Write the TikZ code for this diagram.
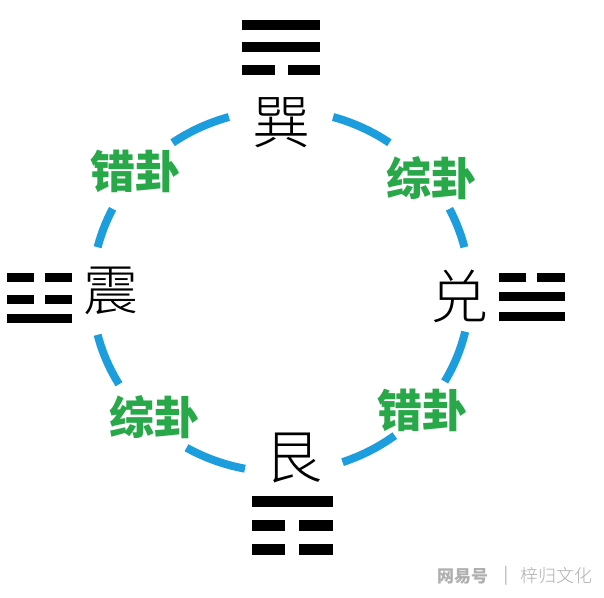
\documentclass[tikz,border=0pt]{standalone}
\usepackage{fontspec}
\newfontfamily\cjk{Noto Sans CJK SC}
\newfontfamily\cjklight{Noto Sans CJK SC Light}
\definecolor{arcblue}{RGB}{27,157,222}
\definecolor{labgreen}{RGB}{41,168,74}
\definecolor{wmgray}{RGB}{175,175,175}
\begin{document}
\begin{tikzpicture}[x=1pt,y=-1pt,
  ring/.style={draw=arcblue, line width=8pt, line cap=butt},
  guachar/.style={font=\cjklight\fontsize{58}{58}\selectfont, inner sep=0pt},
  rel/.style={font=\cjk\bfseries\fontsize{45}{45}\selectfont, text=labgreen, inner sep=0pt},
  yao/.style={line width=#1, line cap=butt},
  yao/.default=10pt,
  wm/.style={font=\cjk\fontsize{17}{17}\selectfont, text=wmgray, inner sep=0pt}
]
\useasboundingbox (0,0) rectangle (604,597);
\fill[white] (0,0) rectangle (604,597);

% circle arcs
\foreach \a/\b in {14/27, 55/74, 106/125, 153/166, 194/211, 240/259, 289/307, 330/347}
  \draw[ring] plot[domain=\a:\b, samples=25, smooth] ({281+189*cos(\x)},{291-181*sin(\x)});

% top trigram (Xun)
\draw[yao] (242,25) -- (320,25);
\draw[yao] (242,47) -- (320,47);
\draw[yao] (242,69.5) -- (275,69.5);
\draw[yao] (288,69.5) -- (320,69.5);

% left trigram (Zhen)
\draw[yao=9pt] (7,277.5) -- (34,277.5);
\draw[yao=9pt] (45,277.5) -- (72,277.5);
\draw[yao=9pt] (7,299) -- (34,299);
\draw[yao=9pt] (45,299) -- (72,299);
\draw[yao=9pt] (7,318) -- (72,318);

% right trigram (Dui)
\draw[yao=9pt] (499,277) -- (526,277);
\draw[yao=9pt] (537,277) -- (565,277);
\draw[yao=9pt] (499,296.5) -- (565,296.5);
\draw[yao=9pt] (499,316.5) -- (565,316.5);

% bottom trigram (Gen)
\draw[yao=11pt] (252,501.5) -- (333,501.5);
\draw[yao=11pt] (252,525) -- (285,525);
\draw[yao=11pt] (299,525) -- (333,525);
\draw[yao=11pt] (252,549.5) -- (285,549.5);
\draw[yao=11pt] (299,549.5) -- (333,549.5);

% trigram names
\node[guachar] (xun) at (281,123) {巽};
\node[guachar, font=\cjklight\fontsize{55}{55}\selectfont] (zhen) at (111,291) {震};
\node[guachar] (dui) at (459,296) {兑};
\node[guachar] (gen) at (293,458) {艮};

% relation labels
\node[rel] (cuo1) at (135.5,171.5) {错卦};
\node[rel] (zong1) at (431,178) {综卦};
\node[rel] (zong2) at (154,417) {综卦};
\node[rel] (cuo2) at (422,410) {错卦};

% watermark
\node[wm, font=\cjk\bfseries\fontsize{17}{17}\selectfont] (wm1) at (462.5,576) {网易号};
\node[wm] (wm2) at (506,576) {|};
\node[wm, font=\cjklight\fontsize{18}{18}\selectfont] (wm3) at (556,576) {梓归文化};
\end{tikzpicture}
\end{document}
